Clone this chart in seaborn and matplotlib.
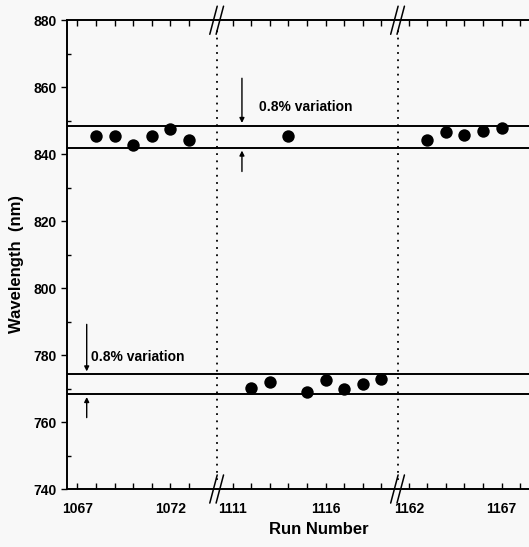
"""Wavelength stability vs run number, broken x axis (scanned figure recreation)."""
import matplotlib.pyplot as plt
import numpy as np
import pandas as pd
import seaborn as sns

# --- data ------------------------------------------------------------------
seg1_runs = [1068, 1069, 1070, 1071, 1072, 1073]
seg1_nm = [845.5, 845.3, 842.8, 845.5, 847.6, 844.3]

seg2_hi_runs = [1114]
seg2_hi_nm = [845.5]

seg2_lo_runs = [1112, 1113, 1115, 1116, 1117, 1118, 1119]
seg2_lo_nm = [770.2, 772.0, 769.0, 772.5, 770.0, 771.3, 773.0]

seg3_runs = [1163, 1164, 1165, 1166, 1167]
seg3_nm = [844.3, 846.7, 845.7, 846.8, 847.7]

band_hi = [841.9, 848.5]
band_lo = [768.3, 774.3]

tick_labels = [1067, 1072, 1111, 1116, 1162, 1167]
segment_runs = [list(range(1067, 1074)), list(range(1111, 1120)), list(range(1162, 1169))]

# broken axis: each segment is shifted so it sits after the previous one
segment_base = [1066.45, 1102.1, 1143.63]
breaks = [8.04, 17.77]
x_max = 24.84


def to_axis(run):
    for runs, base in zip(segment_runs, segment_base):
        if runs[0] - 1 <= run <= runs[-1] + 1:
            return run - base
    raise ValueError(run)


frames = []
for runs, nm in [(seg1_runs, seg1_nm), (seg2_hi_runs, seg2_hi_nm),
                 (seg2_lo_runs, seg2_lo_nm), (seg3_runs, seg3_nm)]:
    frames.append(pd.DataFrame({"run": runs, "nm": nm}))
df = pd.concat(frames, ignore_index=True)
df["pos"] = df["run"].map(to_axis)

# --- figure -----------------------------------------------------------------
sns.set_style("ticks")
plt.rcParams["font.family"] = ["Liberation Sans", "DejaVu Sans"]
plt.rcParams["font.weight"] = "bold"
for key in ("text.color", "axes.labelcolor", "xtick.color", "ytick.color"):
    plt.rcParams[key] = "black"

bg = "#f8f8f8"
fig = plt.figure(figsize=(5.29, 5.47), dpi=100, facecolor=bg)
ax = fig.add_axes([0.127, 0.106, 0.95, 0.857], facecolor=bg)

sns.scatterplot(data=df, x="pos", y="nm", ax=ax, color="black", s=80,
                edgecolor="black", linewidth=0, zorder=4, legend=False)

for y in band_hi + band_lo:
    ax.axhline(y, color="black", lw=1.4, zorder=3)

tr = ax.get_xaxis_transform()
for b in breaks:
    ax.axvline(b, ymin=0.02, ymax=0.98, color="black", ls=(0, (1, 3)), lw=1.3)
    for yc in (0.0, 1.0):
        for off in (-0.17, 0.17):
            ax.plot([b + off - 0.2, b + off + 0.2], [yc - 0.03, yc + 0.03],
                    color="black", lw=1.1, transform=tr, clip_on=False)

# variation arrows and labels
arrow = dict(arrowstyle="-|>", color="black", lw=1.0, mutation_scale=7)
ax.annotate("", xy=(9.4, band_hi[1]), xytext=(9.4, 863.5), arrowprops=arrow)
ax.annotate("", xy=(9.4, band_hi[0]), xytext=(9.4, 834.0), arrowprops=arrow)
ax.text(10.3, 854.0, "0.8% variation", fontsize=10, va="center", ha="left")

ax.annotate("", xy=(1.05, band_lo[1]), xytext=(1.05, 790.0), arrowprops=arrow)
ax.annotate("", xy=(1.05, band_lo[0]), xytext=(1.05, 760.5), arrowprops=arrow)
ax.text(1.3, 779.5, "0.8% variation", fontsize=10, va="center", ha="left")

# axes, ticks
ax.set_xlim(0, x_max * 0.95 / 0.873)
ax.set_ylim(740, 880)

all_runs = [r for runs in segment_runs for r in runs]
ax.set_xticks([to_axis(r) for r in tick_labels])
ax.set_xticklabels([str(r) for r in tick_labels], fontsize=10)
ax.set_xticks([to_axis(r) for r in all_runs if r not in tick_labels], minor=True)
ax.tick_params(axis="x", which="both", direction="in", top=True, bottom=True,
               length=4, width=1.0, pad=9)

ax.set_yticks(np.arange(740, 881, 20))
ax.set_yticks(np.arange(750, 880, 20), minor=True)
ax.tick_params(axis="y", which="major", direction="out", length=4, width=1.0, labelsize=10)
ax.tick_params(axis="y", which="minor", direction="in", length=3, width=1.0)

for side in ("left", "bottom", "top"):
    ax.spines[side].set_linewidth(1.4)
    ax.spines[side].set_color("black")
ax.spines["right"].set_visible(False)

ax.set_xlabel("Run Number", fontsize=12, fontweight="bold", labelpad=5)
ax.set_ylabel("Wavelength  (nm)", fontsize=12, fontweight="bold")
ax.yaxis.set_label_coords(-0.085, 0.48)

fig.savefig("out.png", dpi=100, facecolor=bg)
